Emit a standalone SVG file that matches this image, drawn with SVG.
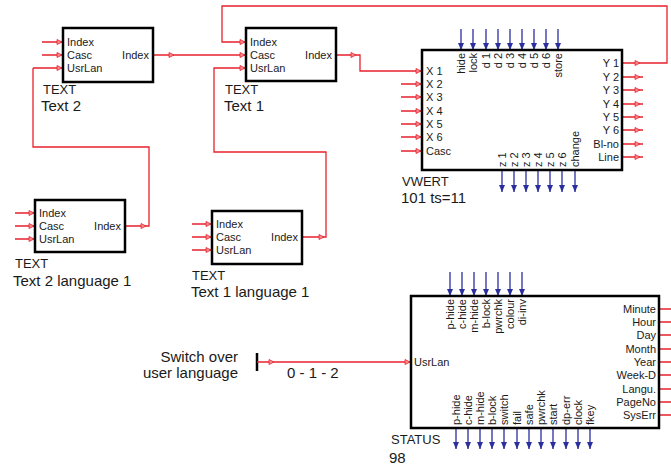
<svg xmlns="http://www.w3.org/2000/svg" xmlns:xlink="http://www.w3.org/1999/xlink" width="671" height="471" viewBox="0 0 671 471">
<defs>
<style>
text{font-family:"Liberation Sans",Arial,sans-serif;fill:#1a1a1a}
.lb{font-size:11px}
.rl{font-size:11px;text-anchor:end}
.t1{font-size:13px}
.t2{font-size:15px}
.box{fill:#fff;stroke:#000;stroke-width:2.5}
.r{fill:none;stroke:#e8212b;stroke-width:1.3}
.b{fill:none;stroke:#2b2f9e;stroke-width:1.3}
.ra{fill:#f58a8f;stroke:#e8212b;stroke-width:0.8}
.ba{fill:#2b2f9e}
</style>
<path id="ra" class="ra" d="M-5,-2.5 L0,0 L-5,2.5 Z"/>
<path id="ba" class="ba" d="M-3,-7 L0,0 L3,-7 Z"/>
</defs>
<rect width="671" height="471" fill="#fff"/>

<g id="connectors">
<path class="r" d="M42,42H63 M42,55H63 M33,68H63"/>
<path class="r" d="M125,226H149V147H33V68"/>
<path class="r" d="M153,55H246"/>
<path class="r" d="M622,63H667V6H222V42H246"/>
<path class="r" d="M302,237H326V152H214V68H246"/>
<path class="r" d="M336,55H360V71H422"/>
<path class="r" d="M15,213H35 M15,226H35 M15,239H35"/>
<path class="r" d="M192,224H212 M192,237H212 M192,250H212"/>
<path class="r" d="M401,84H422 M401,97H422 M401,111H422 M401,124H422 M401,137H422 M401,151H422"/>
<path class="r" d="M622,77H643 M622,90H643 M622,104H643 M622,117H643 M622,130H643 M622,144H643 M622,157H643"/>
<path d="M257,353V371" stroke="#000" stroke-width="2.5"/>
<path class="r" d="M257,362H411"/>
<path class="r" d="M659,309H671 M659,322H671 M659,335H671 M659,349H671 M659,362H671 M659,375H671 M659,389H671 M659,402H671 M659,415H671"/>
<use xlink:href="#ra" x="62" y="42"/><use xlink:href="#ra" x="62" y="55"/><use xlink:href="#ra" x="62" y="68"/>
<use xlink:href="#ra" x="174" y="55"/>
<use xlink:href="#ra" x="245" y="42"/><use xlink:href="#ra" x="245" y="55"/><use xlink:href="#ra" x="245" y="68"/>
<use xlink:href="#ra" x="356" y="55"/>
<use xlink:href="#ra" x="34" y="213"/><use xlink:href="#ra" x="34" y="226"/><use xlink:href="#ra" x="34" y="239"/>
<use xlink:href="#ra" x="146" y="226"/>
<use xlink:href="#ra" x="211" y="224"/><use xlink:href="#ra" x="211" y="237"/><use xlink:href="#ra" x="211" y="250"/>
<use xlink:href="#ra" x="324" y="237"/>
<use xlink:href="#ra" x="421" y="71"/><use xlink:href="#ra" x="421" y="84"/><use xlink:href="#ra" x="421" y="97"/><use xlink:href="#ra" x="421" y="111"/><use xlink:href="#ra" x="421" y="124"/><use xlink:href="#ra" x="421" y="137"/><use xlink:href="#ra" x="421" y="151"/>
<use xlink:href="#ra" x="640" y="63"/><use xlink:href="#ra" x="640" y="77"/><use xlink:href="#ra" x="640" y="90"/><use xlink:href="#ra" x="640" y="104"/><use xlink:href="#ra" x="640" y="117"/><use xlink:href="#ra" x="640" y="130"/><use xlink:href="#ra" x="640" y="144"/><use xlink:href="#ra" x="640" y="157"/>
<use xlink:href="#ra" x="274" y="362"/><use xlink:href="#ra" x="410" y="362"/>
<path class="b" d="M461,29V50 M473,29V50 M486,29V50 M498,29V50 M510,29V50 M522,29V50 M534,29V50 M546,29V50 M558,29V50"/>
<use xlink:href="#ba" x="461" y="50"/><use xlink:href="#ba" x="473" y="50"/><use xlink:href="#ba" x="486" y="50"/><use xlink:href="#ba" x="498" y="50"/><use xlink:href="#ba" x="510" y="50"/><use xlink:href="#ba" x="522" y="50"/><use xlink:href="#ba" x="534" y="50"/><use xlink:href="#ba" x="546" y="50"/><use xlink:href="#ba" x="558" y="50"/>
<path class="b" d="M502,170V192 M514,170V192 M526,170V192 M538,170V192 M550,170V192 M562,170V192 M575,170V192"/>
<use xlink:href="#ba" x="502" y="192"/><use xlink:href="#ba" x="514" y="192"/><use xlink:href="#ba" x="526" y="192"/><use xlink:href="#ba" x="538" y="192"/><use xlink:href="#ba" x="550" y="192"/><use xlink:href="#ba" x="562" y="192"/><use xlink:href="#ba" x="575" y="192"/>
<path class="b" d="M450,272V296 M462,272V296 M474,272V296 M486,272V296 M498,272V296 M510,272V296 M522,272V296"/>
<use xlink:href="#ba" x="450" y="296"/><use xlink:href="#ba" x="462" y="296"/><use xlink:href="#ba" x="474" y="296"/><use xlink:href="#ba" x="486" y="296"/><use xlink:href="#ba" x="498" y="296"/><use xlink:href="#ba" x="510" y="296"/><use xlink:href="#ba" x="522" y="296"/>
<path class="b" d="M456,428V449 M468,428V449 M480,428V449 M492,428V449 M504,428V449 M517,428V449 M529,428V449 M541,428V449 M553,428V449 M566,428V449 M578,428V449 M590,428V449"/>
<use xlink:href="#ba" x="456" y="449"/><use xlink:href="#ba" x="468" y="449"/><use xlink:href="#ba" x="480" y="449"/><use xlink:href="#ba" x="492" y="449"/><use xlink:href="#ba" x="504" y="449"/><use xlink:href="#ba" x="517" y="449"/><use xlink:href="#ba" x="529" y="449"/><use xlink:href="#ba" x="541" y="449"/><use xlink:href="#ba" x="553" y="449"/><use xlink:href="#ba" x="566" y="449"/><use xlink:href="#ba" x="578" y="449"/><use xlink:href="#ba" x="590" y="449"/>
</g>

<g id="text2">
<rect class="box" x="63" y="28" width="90" height="54"/>
<text class="lb" x="67" y="46">Index</text>
<text class="lb" x="67" y="59">Casc</text>
<text class="lb" x="67" y="72">UsrLan</text>
<text class="rl" x="149" y="59">Index</text>
<text class="t1" x="43" y="94">TEXT</text>
<text class="t2" x="41" y="111">Text 2</text>
</g>

<g id="text1">
<rect class="box" x="246" y="28" width="90" height="53"/>
<text class="lb" x="250" y="46">Index</text>
<text class="lb" x="250" y="59">Casc</text>
<text class="lb" x="250" y="72">UsrLan</text>
<text class="rl" x="332" y="59">Index</text>
<text class="t1" x="225" y="94">TEXT</text>
<text class="t2" x="224" y="111">Text 1</text>
</g>

<g id="text2lang1">
<rect class="box" x="35" y="200" width="90" height="52"/>
<text class="lb" x="39" y="217">Index</text>
<text class="lb" x="39" y="230">Casc</text>
<text class="lb" x="39" y="243">UsrLan</text>
<text class="rl" x="121" y="230">Index</text>
<text class="t1" x="15" y="268">TEXT</text>
<text class="t2" x="13" y="286">Text 2 language 1</text>
</g>

<g id="text1lang1">
<rect class="box" x="212" y="211" width="90" height="53"/>
<text class="lb" x="216" y="228">Index</text>
<text class="lb" x="216" y="241">Casc</text>
<text class="lb" x="216" y="254">UsrLan</text>
<text class="rl" x="298" y="241">Index</text>
<text class="t1" x="192" y="280">TEXT</text>
<text class="t2" x="191" y="297">Text 1 language 1</text>
</g>

<g id="vwert">
<rect class="box" x="422" y="50" width="200" height="120"/>
<text class="lb" x="426" y="75">X 1</text>
<text class="lb" x="426" y="88">X 2</text>
<text class="lb" x="426" y="101">X 3</text>
<text class="lb" x="426" y="115">X 4</text>
<text class="lb" x="426" y="128">X 5</text>
<text class="lb" x="426" y="141">X 6</text>
<text class="lb" x="426" y="155">Casc</text>
<text class="rl" x="619" y="67">Y 1</text>
<text class="rl" x="619" y="81">Y 2</text>
<text class="rl" x="619" y="94">Y 3</text>
<text class="rl" x="619" y="108">Y 4</text>
<text class="rl" x="619" y="121">Y 5</text>
<text class="rl" x="619" y="134">Y 6</text>
<text class="rl" x="619" y="148">Bl-no</text>
<text class="rl" x="619" y="161">Line</text>
<g class="rl">
<text transform="translate(465,53) rotate(-90)">hide</text>
<text transform="translate(477,53) rotate(-90)">lock</text>
<text transform="translate(490,53) rotate(-90)">d 1</text>
<text transform="translate(502,53) rotate(-90)">d 2</text>
<text transform="translate(514,53) rotate(-90)">d 3</text>
<text transform="translate(526,53) rotate(-90)">d 4</text>
<text transform="translate(538,53) rotate(-90)">d 5</text>
<text transform="translate(550,53) rotate(-90)">d 6</text>
<text transform="translate(562,53) rotate(-90)">store</text>
</g>
<g class="lb">
<text transform="translate(506,167) rotate(-90)">z 1</text>
<text transform="translate(518,167) rotate(-90)">z 2</text>
<text transform="translate(530,167) rotate(-90)">z 3</text>
<text transform="translate(542,167) rotate(-90)">z 4</text>
<text transform="translate(554,167) rotate(-90)">z 5</text>
<text transform="translate(566,167) rotate(-90)">z 6</text>
<text transform="translate(579,167) rotate(-90)">change</text>
</g>
<text class="t1" x="402" y="186">VWERT</text>
<text class="t2" x="401" y="203">101 ts=11</text>
</g>

<g id="switch">
<text class="t2" x="238" y="362" text-anchor="end">Switch over</text>
<text class="t2" x="238" y="378" text-anchor="end">user language</text>
<text class="t2" x="287" y="378">0 - 1 - 2</text>
</g>

<g id="status">
<rect class="box" x="411" y="296" width="248" height="132"/>
<text class="lb" x="414" y="366">UsrLan</text>
<text class="rl" x="656" y="313">Minute</text>
<text class="rl" x="656" y="326">Hour</text>
<text class="rl" x="656" y="339">Day</text>
<text class="rl" x="656" y="353">Month</text>
<text class="rl" x="656" y="366">Year</text>
<text class="rl" x="656" y="379">Week-D</text>
<text class="rl" x="656" y="393">Langu.</text>
<text class="rl" x="656" y="406">PageNo</text>
<text class="rl" x="656" y="419">SysErr</text>
<g class="rl">
<text transform="translate(454,299) rotate(-90)">p-hide</text>
<text transform="translate(466,299) rotate(-90)">c-hide</text>
<text transform="translate(478,299) rotate(-90)">m-hide</text>
<text transform="translate(490,299) rotate(-90)">b-lock</text>
<text transform="translate(502,299) rotate(-90)">pwrchk</text>
<text transform="translate(514,299) rotate(-90)">colour</text>
<text transform="translate(526,299) rotate(-90)">di-inv</text>
</g>
<g class="lb">
<text transform="translate(460,425) rotate(-90)">p-hide</text>
<text transform="translate(472,425) rotate(-90)">c-hide</text>
<text transform="translate(484,425) rotate(-90)">m-hide</text>
<text transform="translate(496,425) rotate(-90)">b-lock</text>
<text transform="translate(508,425) rotate(-90)">switch</text>
<text transform="translate(521,425) rotate(-90)">fail</text>
<text transform="translate(533,425) rotate(-90)">safe</text>
<text transform="translate(545,425) rotate(-90)">pwrchk</text>
<text transform="translate(557,425) rotate(-90)">start</text>
<text transform="translate(570,425) rotate(-90)">dp-err</text>
<text transform="translate(582,425) rotate(-90)">clock</text>
<text transform="translate(594,425) rotate(-90)">fkey</text>
</g>
<text class="t1" x="391" y="444">STATUS</text>
<text class="t2" x="389" y="463">98</text>
</g>
</svg>
